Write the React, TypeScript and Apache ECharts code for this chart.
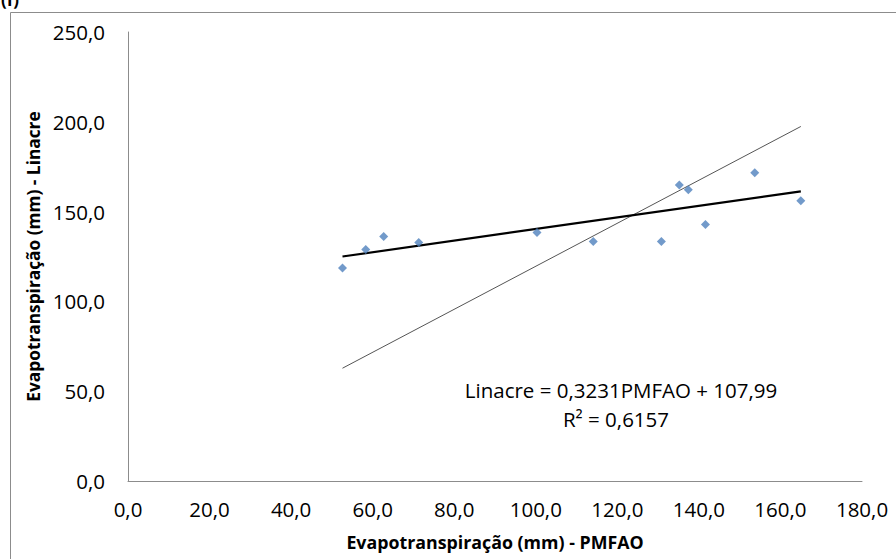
import React, { useEffect, useRef } from "react";
import * as echarts from "echarts";

// Observed data: PMFAO (x) vs Linacre (y)
const pmfao = [52.6, 58.3, 62.7, 71.3, 100.3, 114.1, 130.8, 135.2, 137.4, 141.6, 153.7, 165.0];
const linacre = [118.6, 128.9, 136.1, 132.8, 138.3, 133.3, 133.3, 164.8, 162.2, 142.8, 171.7, 156.1];

// Trend line coefficients (from the chart's equation)
const slope = 0.3231;
const intercept = 107.99;

// Thin reference line endpoints
const refLineX = [52.6, 165.0];
const refLineY = [62.8, 197.4];

const xTicks = { min: 0, max: 180, interval: 20 };
const yTicks = { min: 0, max: 250, interval: 50 };

const equationText = "Linacre = 0,3231PMFAO + 107,99";
const r2Text = "R² = 0,6157";
const xTitle = "Evapotranspiração (mm) - PMFAO";
const yTitle = "Evapotranspiração (mm) - Linacre";
const panelLabel = "(f)";

const fmt = (v: number) => v.toFixed(1).replace(".", ",");

export default function App() {
  const ref = useRef<HTMLDivElement>(null);
  useEffect(() => {
    document.body.style.margin = "0";
    if (!ref.current) return;
    const chart = echarts.init(ref.current, null, { renderer: "svg" });
    const xMin = Math.min(...pmfao);
    const xMax = Math.max(...pmfao);
    const trend = [
      [xMin, slope * xMin + intercept],
      [xMax, slope * xMax + intercept],
    ];
    const refLine = refLineX.map((x, i) => [x, refLineY[i]]);
    const font = "Open Sans";
    chart.setOption({
      animation: false,
      backgroundColor: "#ffffff",
      grid: { left: 128, right: 34, top: 32, bottom: 78, containLabel: false },
      xAxis: {
        type: "value",
        min: xTicks.min,
        max: xTicks.max,
        interval: xTicks.interval,
        axisLine: { show: true, lineStyle: { color: "#8c8c8c", width: 1 } },
        axisTick: { show: false },
        splitLine: { show: false },
        axisLabel: {
          formatter: fmt,
          color: "#000",
          fontFamily: font,
          fontSize: 20.5,
          margin: 17,
          showMinLabel: true,
          showMaxLabel: true,
        },
        name: xTitle,
        nameLocation: "middle",
        nameGap: 52,
        nameTextStyle: { color: "#000", fontFamily: font, fontSize: 17.8, fontWeight: "bold" },
      },
      yAxis: {
        type: "value",
        min: yTicks.min,
        max: yTicks.max,
        interval: yTicks.interval,
        axisLine: { show: true, lineStyle: { color: "#8c8c8c", width: 1 } },
        axisTick: { show: false },
        splitLine: { show: false },
        axisLabel: {
          formatter: fmt,
          color: "#000",
          fontFamily: font,
          fontSize: 20.5,
          margin: 23,
        },
        name: yTitle,
        nameLocation: "middle",
        nameGap: 77,
        nameTextStyle: { color: "#000", fontFamily: font, fontSize: 17.3, fontWeight: "bold" },
      },
      series: [
        {
          type: "line",
          data: refLine,
          symbol: "none",
          lineStyle: { color: "#555555", width: 1 },
          silent: true,
          z: 1,
        },
        {
          type: "line",
          data: trend,
          symbol: "none",
          lineStyle: { color: "#000000", width: 2.2 },
          silent: true,
          z: 2,
        },
        {
          type: "scatter",
          data: pmfao.map((x, i) => [x, linacre[i]]),
          symbol: "diamond",
          symbolSize: 9,
          itemStyle: { color: "#4f81bd" },
          z: 3,
        },
      ],
      graphic: [
        {
          type: "rect",
          shape: { x: 10.5, y: 12.5, width: 900, height: 600 },
          style: { fill: "none", stroke: "#8c8c8c", lineWidth: 1 },
          silent: true,
          z: -1,
        },
        {
          type: "text",
          left: 1,
          top: -9,
          style: { text: panelLabel, fontFamily: font, fontSize: 17, fontWeight: "bold", fill: "#000" },
        },
        {
          type: "text",
          x: 621,
          y: 390,
          style: {
            text: equationText,
            fontFamily: font,
            fontSize: 20.5,
            fill: "#000",
            align: "center",
            verticalAlign: "middle",
          },
        },
        {
          type: "text",
          x: 616,
          y: 419,
          style: {
            text: r2Text,
            fontFamily: font,
            fontSize: 20.5,
            fill: "#000",
            align: "center",
            verticalAlign: "middle",
          },
        },
      ],
    });
    return () => chart.dispose();
  }, []);
  return <div ref={ref} style={{ width: 896, height: 559 }} />;
}
